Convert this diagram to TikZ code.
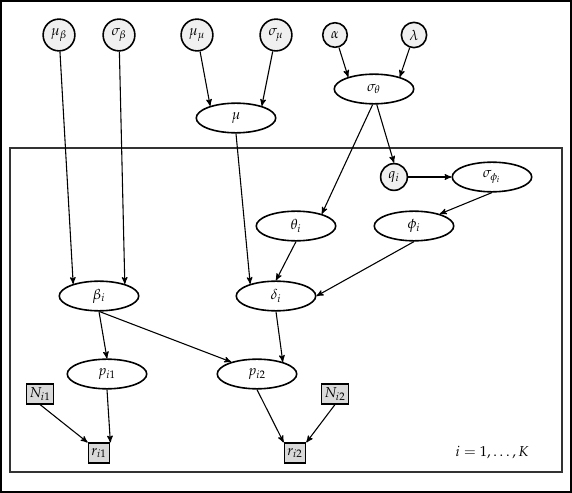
\documentclass[tikz,border=0pt]{standalone}
\usepackage{amsmath}
\usepackage{mathpazo}
\usepackage{tikz}
\usetikzlibrary{arrows,shapes.geometric,positioning}

\begin{document}
\begin{tikzpicture}[x=0.692pt, y=-0.692pt, >=stealth', line width=0.75pt]

    \tikzstyle{latent} = [ellipse, minimum width=55pt, minimum height=20.5pt, inner sep=0pt, draw=black, line width=1.1pt]
    \tikzstyle{hyper} = [circle, minimum size=22pt, inner sep=0pt, fill=gray!12, draw=black, line width=1.1pt]
    \tikzstyle{fixed} = [rectangle, minimum height=13.5pt, inner xsep=2pt, inner ysep=0pt, fill=gray!30, draw=black, line width=1.1pt]

    \useasboundingbox (0,0) rectangle (572,493);
    \draw[line width=0.8pt] (1,1) rectangle (571,492);
    \draw[line width=0.8pt, black!80] (10,148) rectangle (562,472);

    % hyperparameters
    \node (mub)   [hyper] at (59,35)   {$\mu_\beta$};
    \node (sigb)  [hyper] at (119,35)  {$\sigma_\beta$};
    \node (mumu)  [hyper] at (197,35)  {$\mu_\mu$};
    \node (sigmu) [hyper] at (276,35)  {$\sigma_\mu$};
    \node (alpha) [hyper, minimum size=17pt] at (335,35) {$\alpha$};
    \node (lambda)[hyper, minimum size=17.5pt] at (414,35) {$\lambda$};

    \node (mu)    [latent] at (236,118) {$\mu$};
    \node (sigth) [latent] at (374,89)  {$\sigma_\theta$};

    % inside the plate
    \node (q)      [hyper, minimum size=18.5pt] at (394,177) {$q_i$};
    \node (sigphi) [latent] at (492,177) {$\sigma_{\phi_i}$};
    \node (theta)  [latent] at (296,226) {$\theta_i$};
    \node (phi)    [latent] at (414,226) {$\phi_i$};
    \node (beta)   [latent] at (99,296)  {$\beta_i$};
    \node (delta)  [latent] at (276,296) {$\delta_i$};
    \node (p1)     [latent] at (107,374) {$p_{i1}$};
    \node (p2)     [latent] at (257,374) {$p_{i2}$};
    \node (N1)     [fixed]  at (40,394)  {$N_{i1}$};
    \node (N2)     [fixed]  at (335,394) {$N_{i2}$};
    \node (r1)     [fixed]  at (99,453)  {$r_{i1}$};
    \node (r2)     [fixed]  at (295,453) {$r_{i2}$};

    \node (range) at (492,452) {$i=1,\ldots,K$};

    \path[->] (mub)   edge (beta.155);
    \path[->] (sigb)  edge (beta.25);
    \path[->] (mumu)  edge (mu.155);
    \path[->] (sigmu) edge (mu.25);
    \path[->] (alpha) edge (sigth.155);
    \path[->] (lambda) edge (sigth.25);
    \path[->] (mu.south) edge (delta.155);
    \path[->] (sigth.-95) edge (theta.25);
    \path[->] (sigth.-80) edge (q.north);
    \path[->] (q.east) edge (sigphi.west);
    \path[->] (sigphi.south) edge (phi.25);
    \path[->] (theta.south) edge (delta.north);
    \path[->] (phi.south) edge (delta.east);
    \path[->] (beta.south) edge (p1.north);
    \path[->] (beta.-88) edge (p2.155);
    \path[->] (delta.south) edge (p2.25);
    \path[->] (p1.south) edge (r1.north east);
    \path[->] (N1.south) edge (r1.north west);
    \path[->] (p2.south) edge (r2.north west);
    \path[->] (N2.south) edge (r2.north east);
\end{tikzpicture}
\end{document}
